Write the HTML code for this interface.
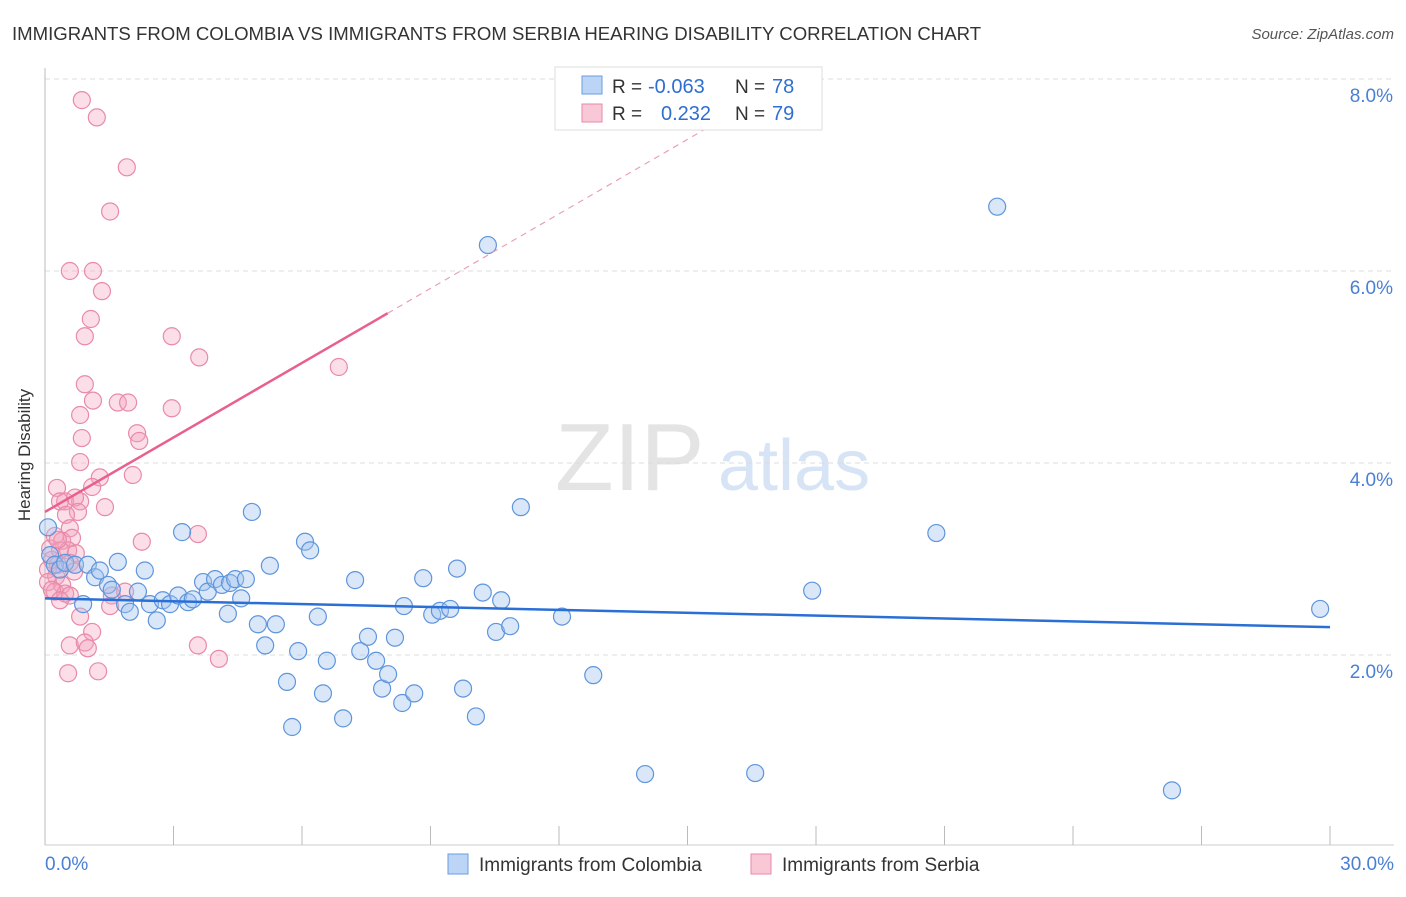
<!DOCTYPE html>
<html><head><meta charset="utf-8"><style>
body{margin:0;background:#fff;font-family:"Liberation Sans",sans-serif;}
svg text{font-family:"Liberation Sans",sans-serif;}
</style></head><body>
<svg id="chart" width="1406" height="892">
<text x="12" y="40" font-size="18.6" fill="#333">IMMIGRANTS FROM COLOMBIA VS IMMIGRANTS FROM SERBIA HEARING DISABILITY CORRELATION CHART</text>
<text x="1394" y="39" font-size="15" fill="#555" font-style="italic" text-anchor="end">Source: ZipAtlas.com</text>
<g><text x="555" y="490" font-size="96" fill="#e4e4e4" font-family="Liberation Serif">ZIP</text><text x="718" y="490" font-size="72" fill="#d6e4f5">atlas</text></g>
<g id="grid"></g>
<g id="axes"></g>
<g id="pink"></g>
<g id="blue"></g>
<g id="trends"></g>
<text x="30" y="455" font-size="17" fill="#333" text-anchor="middle" transform="rotate(-90 30 455)">Hearing Disability</text>
<g>
<rect x="555" y="67" width="267" height="63" fill="#fff" stroke="#ddd"/>
<rect x="582" y="76" width="20" height="18" fill="#bcd4f5" stroke="#6a9de0"/>
<rect x="582" y="104" width="20" height="18" fill="#f9c8d6" stroke="#e88aa6"/>
<text x="612" y="93" font-size="19" fill="#333">R =</text>
<text x="648" y="93" font-size="20" fill="#2f6fd0">-0.063</text>
<text x="735" y="93" font-size="19" fill="#333">N =</text>
<text x="772" y="93" font-size="20" fill="#2f6fd0">78</text>
<text x="612" y="120" font-size="19" fill="#333">R =</text>
<text x="661" y="120" font-size="20" fill="#2f6fd0">0.232</text>
<text x="735" y="120" font-size="19" fill="#333">N =</text>
<text x="772" y="120" font-size="20" fill="#2f6fd0">79</text>
</g>
<g>
<rect x="448" y="854" width="20" height="20" fill="#bcd4f5" stroke="#6a9de0"/>
<text x="479" y="871" font-size="19" fill="#333">Immigrants from Colombia</text>
<rect x="751" y="854" width="20" height="20" fill="#f9c8d6" stroke="#e88aa6"/>
<text x="782" y="871" font-size="19" fill="#333">Immigrants from Serbia</text>
</g>
</svg>
<script>
const yTicks=[2,4,6,8];
const yTickLabels=["2.0%","4.0%","6.0%","8.0%"];
const xTickLabels=["0.0%","30.0%"];
const blueX=[0.07,0.12,0.23,0.35,0.47,0.7,1.0,1.17,1.28,0.89,1.47,1.56,1.7,1.87,1.98,2.17,2.33,2.45,2.61,2.75,2.92,3.11,3.2,3.34,3.45,3.69,3.8,3.97,4.13,4.32,4.44,4.58,4.69,4.27,4.83,4.97,5.14,5.25,5.39,5.65,5.77,5.91,6.07,6.19,6.37,6.49,6.58,6.96,7.24,7.36,7.54,7.73,7.87,8.01,8.17,8.34,8.38,8.62,8.83,9.04,9.22,9.46,9.62,9.76,10.06,10.22,10.34,10.53,10.65,10.86,11.11,12.07,12.8,14.01,16.58,17.91,20.81,22.23,26.31,29.77];
const blueY=[3.33,3.04,2.94,2.89,2.96,2.94,2.94,2.81,2.88,2.53,2.73,2.68,2.97,2.53,2.45,2.66,2.88,2.53,2.36,2.57,2.53,2.62,3.28,2.55,2.58,2.76,2.66,2.79,2.73,2.75,2.79,2.59,2.79,2.43,3.49,2.32,2.1,2.93,2.32,1.72,1.25,2.04,3.18,3.09,2.4,1.6,1.94,1.34,2.78,2.04,2.19,1.94,1.65,1.8,2.18,1.5,2.51,1.6,2.8,2.42,2.46,2.48,2.9,1.65,1.36,2.65,6.27,2.24,2.57,2.3,3.54,2.4,1.79,0.76,0.77,2.67,3.27,6.67,0.59,2.48];
const pinkX=[0.86,1.21,1.91,1.52,0.58,1.12,1.33,1.07,0.93,2.96,3.6,6.86,0.93,1.12,1.7,1.94,2.96,0.82,0.86,2.15,2.2,0.82,1.28,2.05,0.28,1.1,0.47,0.82,0.7,1.4,0.77,0.35,0.49,2.26,3.57,0.58,0.23,0.4,0.63,0.12,0.35,0.54,0.72,0.16,0.3,0.58,0.07,0.26,0.68,0.07,0.4,0.23,0.47,0.58,1.56,1.87,1.52,0.82,1.1,0.58,0.93,1.0,3.57,4.06,0.54,1.24,0.16,0.35,0.3];
const pinkY=[7.78,7.6,7.08,6.62,6.0,6.0,5.79,5.5,5.32,5.32,5.1,5.0,4.82,4.65,4.63,4.63,4.57,4.5,4.26,4.31,4.23,4.01,3.85,3.875,3.74,3.75,3.6,3.6,3.64,3.54,3.49,3.6,3.46,3.18,3.26,3.32,3.24,3.19,3.22,3.11,3.09,3.09,3.06,2.99,2.94,2.96,2.89,2.82,2.87,2.76,2.73,2.66,2.64,2.62,2.62,2.66,2.51,2.4,2.24,2.1,2.13,2.07,2.1,1.96,1.81,1.83,2.68,2.57,3.2];
const blueTrend=[2.59,2.29];
const pinkTrend=[3.49,5.56];
const ns="http://www.w3.org/2000/svg";
const X=v=>45+v*42.833, Y=v=>847-v*96;
function mk(t,a,p){const e=document.createElementNS(ns,t);for(const k in a)e.setAttribute(k,a[k]);p.appendChild(e);return e;}
const grid=document.getElementById('grid'),axes=document.getElementById('axes');
yTicks.forEach((v,i)=>{
 const l=mk('line',{x1:45,x2:1394,y1:Y(v),y2:Y(v),stroke:'#ddd','stroke-dasharray':'5,4'},grid);
 
 
 const t=mk('text',{x:1393,y:Y(v)+23,'font-size':19,fill:'#4a7fd4','text-anchor':'end'},axes);
 t.textContent=yTickLabels[i];
 
 
});
mk('line',{x1:45,x2:45,y1:68,y2:845,stroke:'#bbb'},axes);
mk('line',{x1:45,x2:1394,y1:845,y2:845,stroke:'#ccc'},axes);
for(let i=0;i<=10;i++){mk('line',{x1:X(i*3),x2:X(i*3),y1:826,y2:845,stroke:'#bbb'},axes);}
const xl0=mk('text',{x:45,y:870,'font-size':19,fill:'#4a7fd4'},axes);xl0.textContent=xTickLabels[0];


const xl1=mk('text',{x:1394,y:870,'font-size':19,fill:'#4a7fd4','text-anchor':'end'},axes);xl1.textContent=xTickLabels[1];


const pg=document.getElementById('pink'),bg=document.getElementById('blue');
pinkX.forEach((x,i)=>{const c=mk('circle',{cx:X(x),cy:Y(pinkY[i]),r:8.5,fill:'rgba(244,160,188,0.35)',stroke:'#e98aa8','stroke-width':1.2},pg);
 
 });
blueX.forEach((x,i)=>{const c=mk('circle',{cx:X(x),cy:Y(blueY[i]),r:8.5,fill:'rgba(160,195,238,0.4)',stroke:'#5f95dc','stroke-width':1.2},bg);
 
 });
const tg=document.getElementById('trends');
const bl=mk('line',{x1:X(0),y1:Y(blueTrend[0]),x2:X(30),y2:Y(blueTrend[1]),stroke:'#2a6fd6','stroke-width':2.5},tg);


const ps=(pinkTrend[1]-pinkTrend[0])/8;
const pl=mk('line',{x1:X(0),y1:Y(pinkTrend[0]),x2:X(8),y2:Y(pinkTrend[1]),stroke:'#e8608c','stroke-width':2.5},tg);


const pd=mk('line',{x1:X(8),y1:Y(pinkTrend[1]),x2:X(15.8),y2:Y(pinkTrend[0]+ps*15.8),stroke:'#eaa0b8','stroke-width':1.2,'stroke-dasharray':'6,5'},tg);


</script>
</body></html>
